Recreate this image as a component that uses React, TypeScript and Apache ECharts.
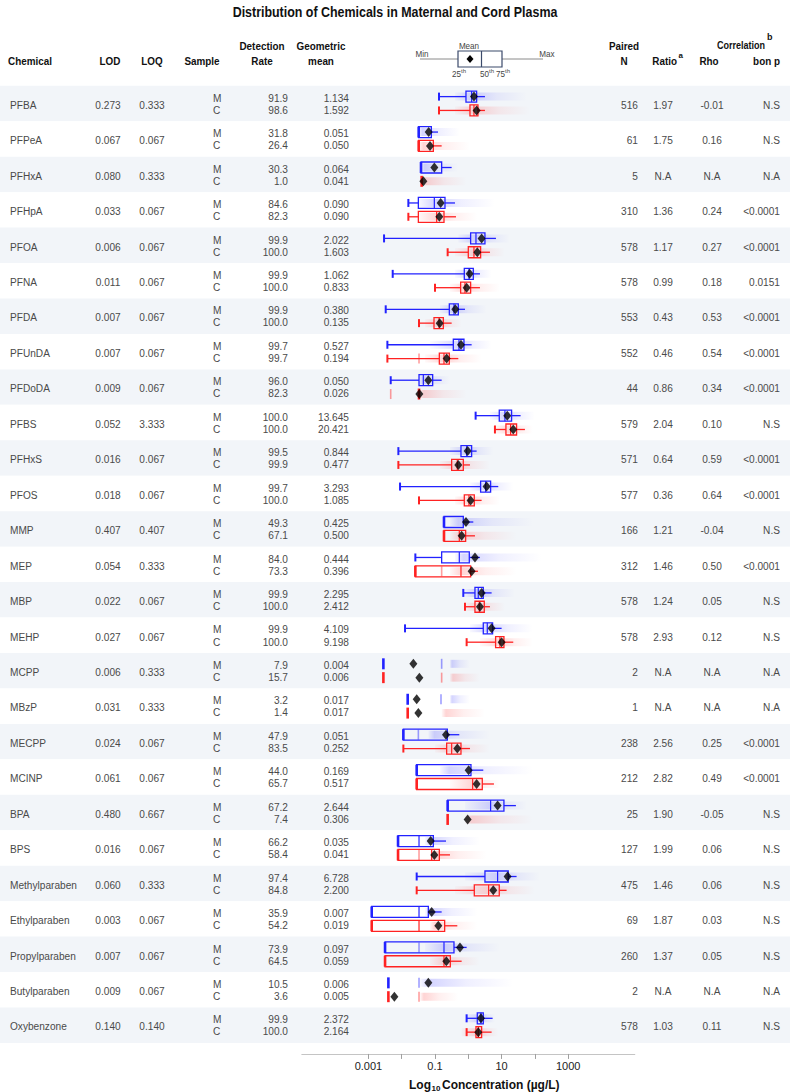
import React, { useEffect, useRef } from "react";
import * as echarts from "echarts";

const chemicals = ["PFBA","PFPeA","PFHxA","PFHpA","PFOA","PFNA","PFDA","PFUnDA","PFDoDA","PFBS","PFHxS","PFOS","MMP","MEP","MBP","MEHP","MCPP","MBzP","MECPP","MCINP","BPA","BPS","Methylparaben","Ethylparaben","Propylparaben","Butylparaben","Oxybenzone"];
const lod = ["0.273","0.067","0.080","0.033","0.006","0.011","0.007","0.007","0.009","0.052","0.016","0.018","0.407","0.054","0.022","0.027","0.006","0.031","0.024","0.061","0.480","0.016","0.060","0.003","0.007","0.009","0.140"];
const loq = ["0.333","0.067","0.333","0.067","0.067","0.067","0.067","0.067","0.067","3.333","0.067","0.067","0.407","0.333","0.067","0.067","0.333","0.333","0.067","0.067","0.667","0.067","0.333","0.067","0.067","0.067","0.140"];
const detectM = ["91.9","31.8","30.3","84.6","99.9","99.9","99.9","99.7","96.0","100.0","99.5","99.7","49.3","84.0","99.9","99.9","7.9","3.2","47.9","44.0","67.2","66.2","97.4","35.9","73.9","10.5","99.9"];
const detectC = ["98.6","26.4","1.0","82.3","100.0","100.0","100.0","99.7","82.3","100.0","99.9","100.0","67.1","73.3","100.0","100.0","15.7","1.4","83.5","65.7","7.4","58.4","84.8","54.2","64.5","3.6","100.0"];
const geoM = ["1.134","0.051","0.064","0.090","2.022","1.062","0.380","0.527","0.050","13.645","0.844","3.293","0.425","0.444","2.295","4.109","0.004","0.017","0.051","0.169","2.644","0.035","6.728","0.007","0.097","0.006","2.372"];
const geoC = ["1.592","0.050","0.041","0.090","1.603","0.833","0.135","0.194","0.026","20.421","0.477","1.085","0.500","0.396","2.412","9.198","0.006","0.017","0.252","0.517","0.306","0.041","2.200","0.019","0.059","0.005","2.164"];
const pairedN = ["516","61","5","310","578","578","553","552","44","579","571","577","166","312","578","578","2","1","238","212","25","127","475","69","260","2","578"];
const ratio = ["1.97","1.75","N.A","1.36","1.17","0.99","0.43","0.46","0.86","2.04","0.64","0.36","1.21","1.46","1.24","2.93","N.A","N.A","2.56","2.82","1.90","1.99","1.46","1.87","1.37","N.A","1.03"];
const rho = ["-0.01","0.16","N.A","0.24","0.27","0.18","0.53","0.54","0.34","0.10","0.59","0.64","-0.04","0.50","0.05","0.12","N.A","N.A","0.25","0.49","-0.05","0.06","0.06","0.03","0.05","N.A","0.11"];
const bonP = ["N.S","N.S","N.A","<0.0001","<0.0001","0.0151","<0.0001","<0.0001","<0.0001","N.S","<0.0001","<0.0001","N.S","<0.0001","N.S","N.S","N.A","N.A","<0.0001","<0.0001","N.S","N.S","N.S","N.S","N.S","N.A","N.S"];

// log10 concentration (µg/L): [min, 25th, median, 75th, upper whisker]
const boxM = [
  [-0.88,-0.07,0.10,0.25,0.50],[-1.49,-1.49,-1.49,-1.11,-0.91],[-1.42,-1.42,-1.42,-0.80,-0.50],
  [-1.80,-1.50,-1.02,-0.70,-0.40],[-2.53,0.07,0.23,0.50,0.83],[-2.27,-0.12,0.02,0.15,0.35],
  [-2.48,-0.57,-0.43,-0.30,-0.10],[-2.43,-0.45,-0.28,-0.13,0.10],[-2.33,-1.48,-1.35,-1.07,-0.80],
  [0.22,0.93,1.10,1.30,1.57],[-2.10,-0.22,-0.05,0.10,0.25],[-2.05,0.37,0.52,0.67,0.90],
  [-0.73,-0.73,-0.73,-0.15,0.15],[-1.59,-0.80,-0.27,0.03,0.35],[-0.15,0.20,0.30,0.45,0.70],
  [-1.90,0.45,0.57,0.73,1.00],[-2.55,-2.55,-2.55,-2.55,-2.55],[-1.82,-1.82,-1.82,-1.82,-1.82],
  [-1.95,-1.95,-1.95,-0.63,-0.27],[-1.55,-1.55,-1.55,0.08,0.45],[-0.62,-0.62,0.67,1.07,1.43],
  [-2.11,-2.11,-1.48,-1.05,-0.67],[-1.55,0.50,0.88,1.20,1.45],[-2.90,-2.90,-1.48,-1.20,-0.80],
  [-2.50,-2.50,-0.73,-0.43,-0.05],[-2.40,-2.40,-2.40,-2.40,-2.40],[-0.05,0.27,0.38,0.45,0.73]
];
const boxC = [
  [-0.88,0.05,0.17,0.29,0.50],[-1.49,-1.49,-1.49,-1.05,-0.80],[-1.40,-1.40,-1.40,-1.40,-1.40],
  [-1.80,-1.50,-0.95,-0.73,-0.37],[-0.62,0.00,0.17,0.37,0.65],[-1.00,-0.23,-0.10,0.07,0.35],
  [-1.48,-1.03,-0.88,-0.75,-0.50],[-2.43,-0.87,-0.73,-0.57,-0.30],[-1.48,-1.48,-1.48,-1.48,-1.48],
  [0.80,1.13,1.27,1.45,1.70],[-2.10,-0.50,-0.33,-0.15,0.05],[-1.48,-0.12,0.02,0.18,0.40],
  [-0.73,-0.73,-0.27,-0.08,0.20],[-1.59,-1.59,-0.22,0.07,0.29],[-0.10,0.20,0.33,0.48,0.65],
  [-0.05,0.82,0.95,1.07,1.35],[-2.55,-2.55,-2.55,-2.55,-2.55],[-1.82,-1.82,-1.82,-1.82,-1.82],
  [-1.95,-0.65,-0.50,-0.22,0.05],[-1.55,-1.55,0.13,0.42,0.77],[-0.62,-0.62,-0.62,-0.62,-0.62],
  [-2.11,-2.11,-1.10,-0.87,-0.55],[-1.55,0.18,0.61,0.93,1.15],[-2.90,-2.90,-1.48,-0.71,-0.33],
  [-2.50,-2.50,-0.73,-0.54,-0.20],[-2.40,-2.40,-2.40,-2.40,-2.40],[-0.05,0.23,0.30,0.40,0.70]
];
const meanM = [0.17,-1.19,-1.02,-0.83,0.40,0.04,-0.39,-0.22,-1.20,1.17,-0.02,0.55,-0.07,0.20,0.40,0.70,-1.65,-1.55,-0.67,0.01,0.88,-1.13,1.18,-1.10,-0.25,-1.20,0.38];
const meanC = [0.25,-1.15,-1.35,-0.87,0.27,-0.05,-0.86,-0.65,-1.47,1.35,-0.30,0.07,-0.20,0.10,0.35,1.00,-1.47,-1.50,-0.33,0.25,-0.02,-1.02,0.75,-0.90,-0.66,-2.22,0.30];
// extent of the individual (jittered) observations
const cloudM = [[-0.4,1.76],[-1.5,-0.25],[-1.42,-0.3],[-1.5,0.8],[-0.3,1.25],[-0.4,0.7],[-0.85,0.55],[-1.15,0.7],[-1.48,-0.55],[0.65,2.0],[-0.55,0.75],[0.05,1.35],[-0.55,1.94],[-0.4,2.2],[-0.1,1.4],[0.05,1.94],[-0.55,0.05],[-0.55,0.05],[-1.2,0.65],[-0.85,1.94],[-0.1,1.76],[-1.3,0.35],[-0.1,2.15],[-1.3,0.27],[-1.3,0.95],[-1.45,1.35],[-0.1,0.8]];
const cloudC = [[-0.4,1.85],[-1.5,0.05],[-1.4,-0.05],[-1.5,0.27],[-0.4,1.1],[-0.55,0.95],[-1.3,-0.2],[-1.3,0.4],[-1.48,-0.05],[0.8,1.94],[-0.85,0.65],[-0.4,0.95],[-0.55,1.45],[-0.55,1.45],[-0.1,1.1],[0.35,1.94],[-0.55,0.35],[-0.8,0.5],[-1.0,0.65],[-0.55,0.95],[-0.1,1.94],[-1.15,0.55],[-0.4,2.0],[-1.15,0.27],[-1.15,0.35],[-1.45,-0.3],[-0.2,0.9]];
// stacked imputed values (shown as a faint vertical mark)
const tickM = [null,null,null,null,null,null,null,null,null,null,null,null,null,null,null,null,-0.80,-0.82,-1.50,null,null,null,null,null,-1.48,-1.48,null];
const tickC = [null,null,null,null,null,null,null,-1.48,-2.33,null,null,null,null,-0.80,null,null,-0.80,null,null,null,null,-1.48,null,null,null,-1.48,null];
const xLabelValues = [-3, -1, 1, 3];
const xTickValues = [-3, -2, -1, 0, 1, 2, 3];

const BLUE = "#2222ff";
const RED = "#ff2222";
const SANS = "'Liberation Sans', Arial, sans-serif";
const OFF_BOX = 0.195;
const OFF_TXT = 0.17;

function txt(x: number, y: number, text: string, align: string, o: any = {}) {
  return {
    type: "text",
    x, y,
    scaleX: o.scaleX || 1,
    silent: true,
    style: {
      text,
      fill: o.fill || "#444",
      fontSize: o.fontSize || 11,
      fontWeight: o.fontWeight || "normal",
      fontFamily: o.fontFamily || SANS,
      align, textAlign: align,
      verticalAlign: "middle", textVerticalAlign: "middle",
    },
  };
}

export default function App() {
  const ref = useRef<HTMLDivElement>(null);
  useEffect(() => {
    const chart = echarts.init(ref.current!, null, { renderer: "svg" });
    const rows = chemicals.map((_, i) => [i]);

    const boxData: any[] = [];
    const cloudData: any[] = [];
    const tickData: any[] = [];
    chemicals.forEach((_, i) => {
      boxData.push([i - OFF_BOX, ...boxM[i], 0]);
      boxData.push([i + OFF_BOX, ...boxC[i], 1]);
      cloudData.push([i - OFF_BOX, cloudM[i][0], cloudM[i][1], boxM[i][2], 0]);
      cloudData.push([i + OFF_BOX, cloudC[i][0], cloudC[i][1], boxC[i][2], 1]);
      if (tickM[i] !== null) tickData.push([i - OFF_BOX, tickM[i], 0]);
      if (tickC[i] !== null) tickData.push([i + OFF_BOX, tickC[i], 1]);
    });

    const hb = { fontWeight: "bold", fill: "#111", fontSize: 11.5, scaleX: 0.86 };
    const body = { scaleX: 0.88, fontSize: 11.5, fill: "#4a4a4a" };
    const leg = { fontSize: 9, fill: "#444", scaleX: 0.9 };
    const legSup = { fontSize: 6, fill: "#444" };
    const legendStroke = "#3b4a6b";
    const graphic: any[] = [
      txt(395, 12, "Distribution of Chemicals in Maternal and Cord Plasma", "center", { fontWeight: "bold", fill: "#111", fontSize: 15, scaleX: 0.83 }),
      txt(8, 61, "Chemical", "left", hb),
      txt(110, 61, "LOD", "center", hb),
      txt(152, 61, "LOQ", "center", hb),
      txt(202, 61, "Sample", "center", hb),
      txt(262, 46, "Detection", "center", hb),
      txt(262, 61, "Rate", "center", hb),
      txt(321, 46, "Geometric", "center", hb),
      txt(321, 61, "mean", "center", hb),
      txt(624, 46, "Paired", "center", hb),
      txt(624, 61, "N", "center", hb),
      txt(677, 61, "Ratio", "right", hb),
      txt(678.5, 55, "a", "left", { fontWeight: "bold", fill: "#111", fontSize: 8 }),
      txt(709, 61, "Rho", "center", hb),
      txt(765, 45, "Correlation", "right", { fontWeight: "bold", fill: "#111", fontSize: 10.5, scaleX: 0.86 }),
      txt(767, 37, "b", "left", { fontWeight: "bold", fill: "#111", fontSize: 9 }),
      txt(780, 61, "bon p", "right", hb),
      // legend sketch of a box
      { type: "line", silent: true, shape: { x1: 420, y1: 59, x2: 458, y2: 59 }, style: { stroke: "#8a8a8a", lineWidth: 1 } },
      { type: "line", silent: true, shape: { x1: 502, y1: 59, x2: 543, y2: 59 }, style: { stroke: "#8a8a8a", lineWidth: 1 } },
      { type: "rect", silent: true, shape: { x: 458, y: 51, width: 44, height: 16 }, style: { stroke: legendStroke, fill: "#fff", lineWidth: 1.2 } },
      { type: "line", silent: true, shape: { x1: 481.5, y1: 51, x2: 481.5, y2: 67 }, style: { stroke: legendStroke, lineWidth: 1.2 } },
      { type: "polygon", silent: true, shape: { points: [[470, 55], [473.5, 59], [470, 63], [466.5, 59]] }, style: { fill: "#000" } },
      txt(422, 54, "Min", "center", leg),
      txt(547, 54, "Max", "center", leg),
      txt(469, 46, "Mean", "center", leg),
      txt(452, 74, "25", "left", leg),
      txt(461, 71, "th", "left", legSup),
      txt(480, 74, "50", "left", leg),
      txt(489, 71, "th", "left", legSup),
      txt(496, 74, "75", "left", leg),
      txt(505, 71, "th", "left", legSup),
      // x axis title
      txt(431, 1085, "Log", "right", { fontSize: 12, fontWeight: "bold", fill: "#111" }),
      txt(431.5, 1088, "10", "left", { fontSize: 8, fontWeight: "bold", fill: "#111" }),
      txt(442, 1085, "Concentration (µg/L)", "left", { fontSize: 12, fontWeight: "bold", fill: "#111" }),
    ];

    const option: any = {
      animation: false,
      grid: { left: 301.8, right: 155.2, top: 85.8, bottom: 49.05, containLabel: false },
      xAxis: {
        type: "value", min: -5, max: 5, interval: 1, offset: 11, position: "bottom",
        splitLine: { show: false },
        axisLine: { show: true, onZero: false, lineStyle: { color: "#c4c4c4", width: 1 } },
        axisTick: { show: true, customValues: xTickValues, length: 5, lineStyle: { color: "#a0a0a0" } },
        axisLabel: {
          customValues: xLabelValues, color: "#222", fontSize: 11, fontFamily: SANS, margin: 7,
          formatter: (v: number) => (v < 0 ? Math.pow(10, v).toFixed(-v) : String(Math.round(Math.pow(10, v)))),
        },
      },
      yAxis: { type: "value", min: -0.5, max: 26.5, inverse: true, show: false },
      graphic,
      series: [
        {
          type: "custom", name: "bands", z: 0, silent: true, data: rows,
          renderItem: (params: any, api: any) => {
            const i = api.value(0);
            const y0 = api.coord([0, i - 0.5])[1];
            const y1 = api.coord([0, i + 0.5])[1];
            return { type: "rect", shape: { x: 0, y: y0, width: 790, height: y1 - y0 }, style: { fill: i % 2 === 0 ? "#f2f5f9" : "#ffffff" } };
          },
        },
        {
          type: "custom", name: "table", z: 2, silent: true, data: rows,
          renderItem: (params: any, api: any) => {
            const i = api.value(0);
            const yc = api.coord([0, i])[1];
            const yM = api.coord([0, i - OFF_TXT])[1];
            const yC = api.coord([0, i + OFF_TXT])[1];
            return {
              type: "group",
              children: [
                txt(10, yc + 1, chemicals[i], "left", body),
                txt(108, yc + 1, lod[i], "center", body),
                txt(152, yc + 1, loq[i], "center", body),
                txt(213, yM, "M", "left", body),
                txt(213, yC, "C", "left", body),
                txt(288, yM, detectM[i], "right", body),
                txt(288, yC, detectC[i], "right", body),
                txt(349, yM, geoM[i], "right", body),
                txt(349, yC, geoC[i], "right", body),
                txt(638, yc + 1, pairedN[i], "right", body),
                txt(663, yc + 1, ratio[i], "center", body),
                txt(712, yc + 1, rho[i], "center", body),
                txt(780, yc + 1, bonP[i], "right", body),
              ],
            };
          },
        },
        {
          type: "custom", name: "observations", z: 3, silent: true, data: cloudData,
          renderItem: (params: any, api: any) => {
            const y = api.value(0), lo = api.value(1), hi = api.value(2), pk = api.value(3), ci = api.value(4);
            const p0 = api.coord([lo, y]);
            const p1 = api.coord([hi, y]);
            const f = Math.min(0.9, Math.max(0.1, (pk - lo) / (hi - lo)));
            const rgb = ci === 0 ? "60,60,255" : "255,60,60";
            return {
              type: "rect",
              shape: { x: p0[0], y: p0[1] - 4, width: p1[0] - p0[0], height: 8 },
              style: {
                fill: new echarts.graphic.LinearGradient(0, 0, 1, 0, [
                  { offset: 0, color: `rgba(${rgb},0.03)` },
                  { offset: f, color: `rgba(${rgb},0.22)` },
                  { offset: Math.min(1, f + (1 - f) * 0.45), color: `rgba(${rgb},0.08)` },
                  { offset: 1, color: `rgba(${rgb},0)` },
                ]),
              },
            };
          },
        },
        {
          type: "custom", name: "imputed", z: 4, silent: true, data: tickData,
          renderItem: (params: any, api: any) => {
            const p = api.coord([api.value(1), api.value(0)]);
            const c = api.value(2) === 0 ? "rgba(40,40,255,0.45)" : "rgba(255,40,40,0.45)";
            return { type: "line", shape: { x1: p[0], y1: p[1] - 5, x2: p[0], y2: p[1] + 5 }, style: { stroke: c, lineWidth: 1.6 } };
          },
        },
        {
          type: "custom", name: "boxes", z: 5, silent: true, data: boxData,
          renderItem: (params: any, api: any) => {
            const y = api.value(0);
            const mn = api.value(1), q1 = api.value(2), md = api.value(3), q3 = api.value(4), hi = api.value(5);
            const c = api.value(6) === 0 ? BLUE : RED;
            const X = (v: number) => api.coord([v, y])[0];
            const yc = api.coord([0, y])[1];
            const h = 11;
            const ch: any[] = [];
            if (q3 - q1 < 1e-6) {
              ch.push({ type: "line", shape: { x1: X(q1), y1: yc - h / 2, x2: X(q1), y2: yc + h / 2 }, style: { stroke: c, lineWidth: 2.6 } });
              return { type: "group", children: ch };
            }
            if (q1 - mn > 1e-6) {
              ch.push({ type: "line", shape: { x1: X(mn), y1: yc, x2: X(q1), y2: yc }, style: { stroke: c, lineWidth: 1.3 } });
              ch.push({ type: "line", shape: { x1: X(mn), y1: yc - 4, x2: X(mn), y2: yc + 4 }, style: { stroke: c, lineWidth: 2 } });
            }
            if (hi - q3 > 1e-6) {
              ch.push({ type: "line", shape: { x1: X(q3), y1: yc, x2: X(hi), y2: yc }, style: { stroke: c, lineWidth: 1.3 } });
            }
            ch.push({ type: "rect", shape: { x: X(q1), y: yc - h / 2, width: X(q3) - X(q1), height: h }, style: { stroke: c, fill: "none", lineWidth: 1.3 } });
            if (md - q1 > 1e-6) {
              ch.push({ type: "line", shape: { x1: X(md), y1: yc - h / 2, x2: X(md), y2: yc + h / 2 }, style: { stroke: c, lineWidth: 1.2 } });
            }
            if (q1 - mn <= 1e-6) {
              ch.push({ type: "line", shape: { x1: X(q1), y1: yc - h / 2, x2: X(q1), y2: yc + h / 2 }, style: { stroke: c, lineWidth: 2.6 } });
            }
            return { type: "group", children: ch };
          },
        },
        {
          type: "scatter", name: "Mean (M)", z: 6, silent: true, symbol: "diamond", symbolSize: [8, 10],
          itemStyle: { color: "#000" },
          data: meanM.map((v, i) => [v, i - OFF_BOX]),
        },
        {
          type: "scatter", name: "Mean (C)", z: 6, silent: true, symbol: "diamond", symbolSize: [8, 10],
          itemStyle: { color: "#000" },
          data: meanC.map((v, i) => [v, i + OFF_BOX]),
        },
      ],
    };
    chart.setOption(option);
    return () => chart.dispose();
  }, []);
  return <div ref={ref} style={{ position: "absolute", left: 0, top: 0, width: 790, height: 1092, background: "#fff" }} />;
}
